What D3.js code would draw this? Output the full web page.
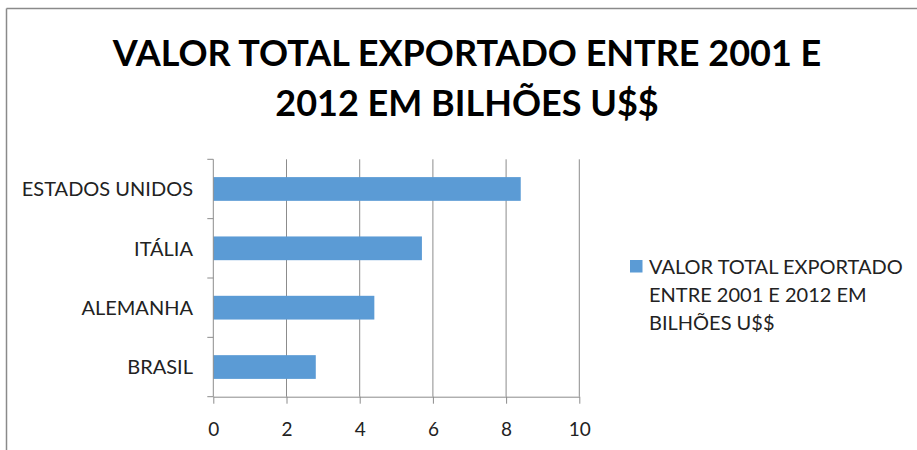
<!DOCTYPE html>
<html>
<head>
<meta charset="utf-8">
<script src="https://cdn.jsdelivr.net/npm/d3@7"></script>
<style>
  html, body { margin: 0; padding: 0; background: #fff; }
  svg { display: block; font-family: Lato, "Open Sans", sans-serif; }
</style>
</head>
<body>
<svg id="chart" width="917" height="450"></svg>
<script>
const titleLines = ["VALOR TOTAL EXPORTADO ENTRE 2001 E", "2012 EM BILHÕES U$$"];
const categories = ["ESTADOS UNIDOS", "ITÁLIA", "ALEMANHA", "BRASIL"];
const values = [8.4, 5.7, 4.4, 2.8];
const xTicks = [0, 2, 4, 6, 8, 10];
const legendLines = ["VALOR TOTAL EXPORTADO", "ENTRE 2001 E 2012 EM", "BILHÕES U$$"];

(function () {
const svg = d3.select("#chart");
const W = 917, H = 450;
const pLeft = 213.3, pRight = 579.3, pTop = 159.3, pBottom = 396.7;
const barColor = "#5B9BD5";
const gridColor = "#8c8c8c";

// frame (top and left border)
svg.append("line").attr("x1", 6.5).attr("x2", W).attr("y1", 8.5).attr("y2", 8.5)
  .attr("stroke", "#8a8a8a").attr("stroke-width", 1.5);
svg.append("line").attr("x1", 6.5).attr("x2", 6.5).attr("y1", 8.5).attr("y2", H)
  .attr("stroke", "#8a8a8a").attr("stroke-width", 1.5);

// title
svg.append("g").selectAll("text").data(titleLines).join("text")
  .attr("x", 467).attr("y", (d, i) => 66 + i * 50)
  .attr("text-anchor", "middle")
  .attr("font-size", 36).attr("font-weight", "bold").attr("fill", "#000")
  .text(d => d);

const x = d3.scaleLinear().domain([0, 10]).range([pLeft, pRight]);
const y = d3.scaleBand().domain(categories).range([pTop, pBottom]).paddingInner(0.6).paddingOuter(0.3);

// gridlines
svg.append("g").selectAll("line").data(xTicks.slice(1)).join("line")
  .attr("x1", d => x(d)).attr("x2", d => x(d))
  .attr("y1", pTop).attr("y2", pBottom)
  .attr("stroke", gridColor).attr("stroke-width", 1);

// bars
svg.append("g").selectAll("rect").data(categories).join("rect")
  .attr("x", x(0)).attr("y", d => y(d))
  .attr("width", (d, i) => x(values[i]) - x(0))
  .attr("height", y.bandwidth())
  .attr("fill", barColor);

// x axis
const xAxis = d3.axisBottom(x).tickValues(xTicks).tickSize(7).tickPadding(19).tickSizeOuter(0);
const gx = svg.append("g").attr("transform", `translate(0,${pBottom})`).call(xAxis);
gx.select(".domain").attr("stroke", gridColor);
gx.selectAll(".tick line").attr("stroke", gridColor);
gx.selectAll(".tick text").attr("font-size", 19).attr("fill", "#222").attr("font-family", "Lato, sans-serif");

// y axis: ticks at band boundaries
const yBounds = d3.range(categories.length + 1).map(i => pTop + i * (pBottom - pTop) / categories.length);
svg.append("line").attr("x1", pLeft).attr("x2", pLeft).attr("y1", pTop).attr("y2", pBottom)
  .attr("stroke", gridColor);
svg.append("g").selectAll("line").data(yBounds).join("line")
  .attr("x1", pLeft - 6).attr("x2", pLeft).attr("y1", d => d).attr("y2", d => d)
  .attr("stroke", gridColor);
svg.append("g").selectAll("text").data(categories).join("text")
  .attr("x", 193).attr("y", d => y(d) + y.bandwidth() / 2)
  .attr("dy", "0.36em")
  .attr("text-anchor", "end").attr("font-size", 20).attr("fill", "#222")
  .text(d => d);

// legend
svg.append("rect").attr("x", 630).attr("y", 260).attr("width", 12.5).attr("height", 12.5).attr("fill", barColor);
svg.append("g").selectAll("text").data(legendLines).join("text")
  .attr("x", 649).attr("y", (d, i) => 274 + i * 28)
  .attr("font-size", 20).attr("fill", "#222")
  .text(d => d);
})();
</script>
</body>
</html>
